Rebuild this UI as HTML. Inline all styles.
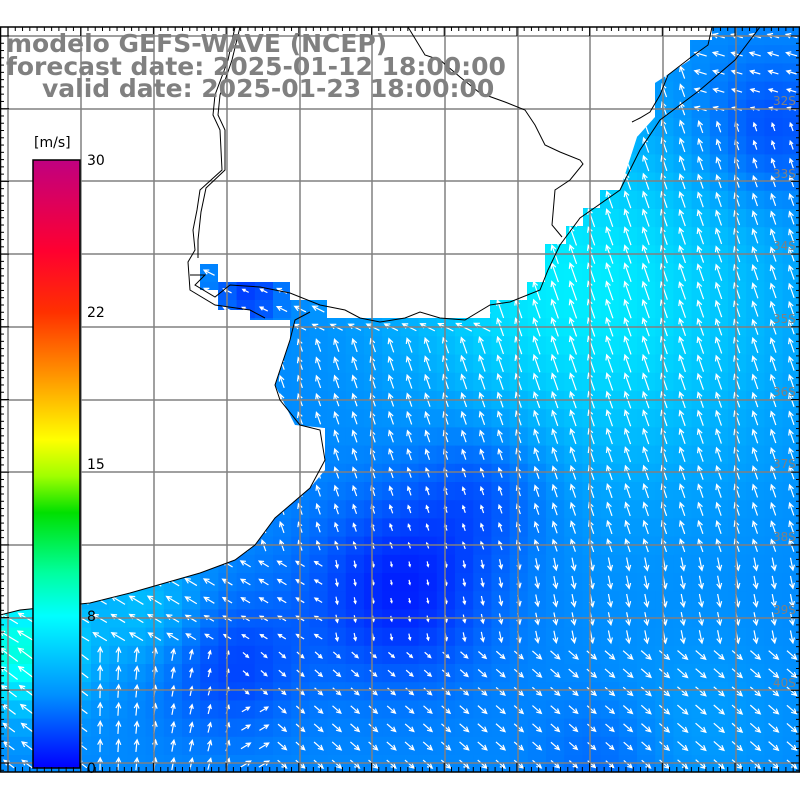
<!DOCTYPE html>
<html><head><meta charset="utf-8"><style>
html,body{margin:0;padding:0;background:#fff;width:800px;height:800px;overflow:hidden}
svg{display:block}
.t{font-family:"DejaVu Sans","Liberation Sans",sans-serif;font-weight:bold;fill:#808080;font-size:25px}
.c{font-family:"DejaVu Sans","Liberation Sans",sans-serif;font-size:14px;fill:#000}
.g{font-family:"DejaVu Sans","Liberation Sans",sans-serif;font-size:12px;fill:#808080}
</style></head><body>
<svg id="s" width="800" height="800" viewBox="0 0 800 800" xmlns="http://www.w3.org/2000/svg">
<defs>
<clipPath id="oc"><polygon points="0,615 20,610 90,603 130,593 200,573 235,560 255,545 275,518 310,488 325,470 325,428 295,425 275,385 290,340 290,320 250,320 250,310 218,310 218,290 200,290 200,264 218,264 218,282 290,282 290,300 327,300 327,318 490,318 490,300 527,300 527,282 545,282 545,244 566,244 566,226 583,226 583,208 600,208 600,190 620,190 637,137 655,117 655,83 690,60 690,40 712,40 712,27 800,27 800,772 0,772"/></clipPath>
<linearGradient id="cb" x1="0" y1="0" x2="0" y2="1">
<stop offset="0" stop-color="#c00080"/><stop offset="0.15" stop-color="#ff0030"/><stop offset="0.25" stop-color="#ff3000"/><stop offset="0.35" stop-color="#ff9000"/><stop offset="0.46" stop-color="#ffff00"/><stop offset="0.52" stop-color="#a0ff00"/><stop offset="0.58" stop-color="#00e000"/><stop offset="0.68" stop-color="#00ffa0"/><stop offset="0.75" stop-color="#00ffff"/><stop offset="0.88" stop-color="#0090ff"/><stop offset="1" stop-color="#0000ff"/>
</linearGradient>
</defs>
<g id="cells" clip-path="url(#oc)"></g>
<g id="arr" clip-path="url(#oc)" stroke="#fff" stroke-width="1.2" fill="none"></g>
<g stroke="#808080" stroke-width="1.5" id="grid"></g>
<g fill="none" stroke="#000" stroke-width="1">
<polyline points="0,615 20,610 90,603 130,593 200,573 235,560 255,545 275,518 310,488 325,460 320,430 300,425 280,400 275,385 290,340 295,320 310,312"/>
<polyline points="190,275 205,275 195,285 215,297 230,285 260,287 290,293 320,305 345,310 360,318 380,322 405,318 420,312 440,318 465,320 490,305 510,302 540,290 548,270 560,245 580,218 620,190 640,150 660,120 700,90 735,60 760,27"/>
<polyline points="408,27 425,55 440,60 460,77 480,93 505,102 525,110 535,125 545,145 560,152 580,160 583,164 570,180 555,190 552,225 562,237"/>
<polyline points="235,27 228,60 215,95 213,115 220,130 222,170 200,190 197,210 193,230 195,250 188,262 190,290 215,305 250,310 265,318"/>
<polyline points="240,27 232,60 220,95 218,115 225,130 225,170 206,188 201,212 198,240 198,258"/>
<polyline points="712,27 708,45 690,58 668,75 660,95 650,112 640,118 632,122"/>
</g>
<rect x="33" y="160" width="47" height="608" fill="url(#cb)" stroke="#000" stroke-width="1.5"/>
<rect x="0.5" y="27" width="799" height="745" fill="none" stroke="#000" stroke-width="1.5"/>
<g id="ticks" stroke="#000" stroke-width="1"></g>
<text class="c" x="34" y="147">[m/s]</text>
<text class="c" x="87" y="165">30</text>
<text class="c" x="87" y="317">22</text>
<text class="c" x="87" y="469">15</text>
<text class="c" x="87" y="621">8</text>
<text class="c" x="87" y="773">0</text>
<text class="g" x="773" y="105">32S</text><text class="g" x="773" y="178">33S</text><text class="g" x="773" y="250">34S</text><text class="g" x="773" y="323">35S</text><text class="g" x="773" y="396">36S</text><text class="g" x="773" y="468">37S</text><text class="g" x="773" y="541">38S</text><text class="g" x="773" y="614">39S</text><text class="g" x="773" y="687">40S</text>
<text class="t" x="6" y="52">modelo GEFS-WAVE (NCEP)</text>
<text class="t" x="6" y="75">forecast date: 2025-01-12 18:00:00</text>
<text class="t" x="42" y="97">valid date: 2025-01-23 18:00:00</text>
</svg>
<script>
var NS="http://www.w3.org/2000/svg";
function el(p,n,a){var e=document.createElementNS(NS,n);for(var k in a)e.setAttribute(k,a[k]);p.appendChild(e);return e;}
function G(x,y,cx,cy,r,a){var d=((x-cx)*(x-cx)+(y-cy)*(y-cy))/(r*r);return a*Math.exp(-d);}
function sp(x,y){var s=4.3;s+=G(x,y,610,300,180,2.8);s+=G(x,y,480,250,120,1);s+=G(x,y,770,130,70,-2.2);s+=G(x,y,400,590,90,-3.3);s+=G(x,y,480,490,70,-1.8);s+=G(x,y,230,665,70,-2.2);s+=G(x,y,250,295,30,-2.5);s+=G(x,y,20,650,60,4.5);s+=G(x,y,150,610,60,1.8);s+=G(x,y,700,720,90,0.6);s+=G(x,y,600,760,60,-1);return Math.max(0.3,s);}
function col(s){var r=0,g,b=255;if(s<=8){g=Math.round(255*s/8);}else{var t=Math.min(1,(s-8)/3);g=255;b=Math.round(255-127*t);}return "rgb("+r+","+g+","+b+")";}
var C=document.getElementById("cells"),A=document.getElementById("arr");
var st=18.2;
for(var y=27;y<772;y+=st)for(var x=0;x<800;x+=st){var cx=x+st/2,cy=y+st/2,s=sp(cx,cy);
el(C,"rect",{x:x,y:y,width:st+0.5,height:st+0.5,fill:col(s)});
var dx,dy;
if(cy<560){dx=-0.35;dy=-1;if(cx>700&&cy<120){dx=-1;dy=-0.3;}if(cy<330&&cx<500){dx=-1;dy=-0.5;}}
else if(cy<650&&cx<330){dx=-1;dy=-0.6;}
else if(cx>330&&cy<640){dx=0.2;dy=1;}
else if(cy<640){dx=0;dy=1;}
else if(cx>230){dx=0.8;dy=0.7;if(cy>700&&cx<280){dx=1;dy=-0.6;}}
else if(cx>90){dx=0.3*(cx-90)/140;dy=-1;}
else {dx=-0.8;dy=-0.6;}
var n=Math.hypot(dx,dy);dx/=n;dy/=n;var L=Math.min(22,2+s*2.4);
var x0=cx-dx*L/2,y0=cy-dy*L/2,x1=cx+dx*L/2,y1=cy+dy*L/2;
var h=Math.min(5,L*0.4),px=-dy,py=dx;
el(A,"path",{d:"M"+x0+" "+y0+"L"+x1+" "+y1+"M"+(x1-dx*h+px*h*0.5)+" "+(y1-dy*h+py*h*0.5)+"L"+x1+" "+y1+"L"+(x1-dx*h-px*h*0.5)+" "+(y1-dy*h-py*h*0.5)});}
var Gr=document.getElementById("grid");
[8,81,154,227,300,372,445,518,590,663,736].forEach(function(x){el(Gr,"line",{x1:x,y1:27,x2:x,y2:772});});
[36,109,181,254,327,400,472,545,618,690,763].forEach(function(y){el(Gr,"line",{x1:0,y1:y,x2:800,y2:y});});
var T=document.getElementById("ticks");
for(var x=8;x<800;x+=7.27){var big=Math.abs(((x-8)/72.7)-Math.round((x-8)/72.7))<0.05;el(T,"line",{x1:x,y1:27,x2:x,y2:big?36:31});el(T,"line",{x1:x,y1:772,x2:x,y2:big?763:767});}
for(var y=36;y<772;y+=7.27){var big=Math.abs(((y-36)/72.7)-Math.round((y-36)/72.7))<0.05;el(T,"line",{x1:0,y1:y,x2:big?9:4,y2:y});el(T,"line",{x1:800,y1:y,x2:big?791:796,y2:y});}
</script>
</body></html>
